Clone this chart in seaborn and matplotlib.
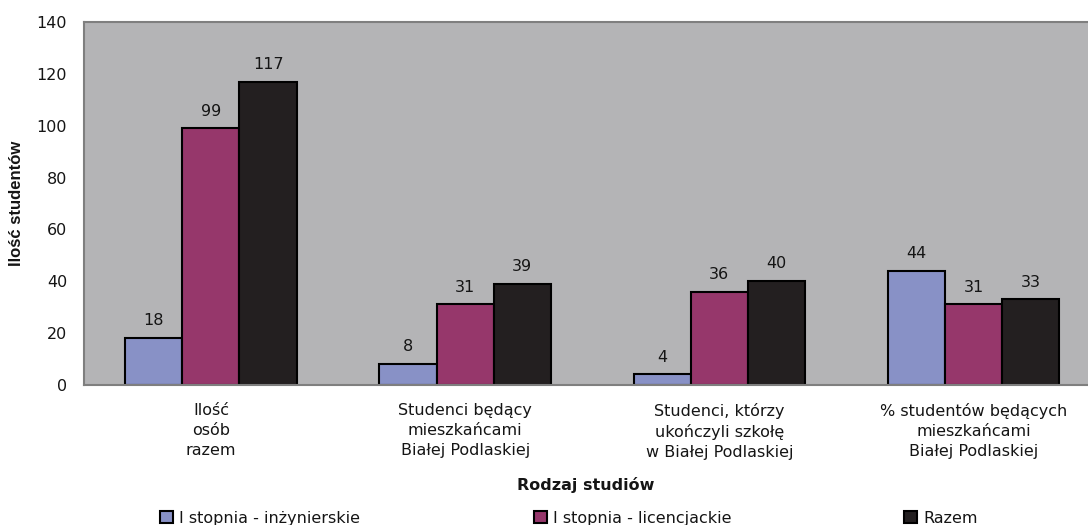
import pandas as pd
import seaborn as sns
from matplotlib import pyplot as plt

categories = ['Ilość\nosób\nrazem',
              'Studenci będący\nmieszkańcami\nBiałej Podlaskiej',
              'Studenci, którzy\nukończyli szkołę\nw Białej Podlaskiej',
              '% studentów będących\nmieszkańcami\nBiałej Podlaskiej']
series = ['I stopnia - inżynierskie', 'I stopnia - licencjackie', 'Razem']
inz = [18, 8, 4, 44]
lic = [99, 31, 36, 31]
razem = [117, 39, 40, 33]
colors = ['#8891C6', '#96376B', '#231F20']

rows = []
for name, vals in zip(series, [inz, lic, razem]):
    for cat, v in zip(categories, vals):
        rows.append({'cat': cat, 'series': name, 'value': v})
df = pd.DataFrame(rows)

sns.set_style("white")
plt.rcParams['font.family'] = ['DejaVu Sans']
fs = 11.5
txt = '#151515'

fig = plt.figure(figsize=(10.88, 5.25), dpi=100)
ax = fig.add_axes([0.077, 0.267, 0.923, 0.691])
ax.set_facecolor('#B4B4B6')

sns.barplot(data=df, x='cat', y='value', hue='series', order=categories, hue_order=series,
            palette=colors, width=0.675, gap=0, edgecolor='black', linewidth=1.5,
            saturation=1, ax=ax, legend=True)

for cont in ax.containers:
    ax.bar_label(cont, padding=7, fontsize=fs, color=txt)

ax.set_xlim(-0.5, 3.45)
ax.set_ylim(0, 140)
ax.set_yticks(range(0, 141, 20))
ax.tick_params(axis='y', length=0, pad=12, labelsize=fs, labelcolor=txt)
ax.tick_params(axis='x', length=0, pad=13, labelsize=fs, labelcolor=txt)
for lab in ax.get_xticklabels():
    lab.set_linespacing(1.42)
for sp in ['left', 'top', 'bottom']:
    ax.spines[sp].set_color('#7F7F7F')
    ax.spines[sp].set_linewidth(1.5)
ax.spines['right'].set_visible(False)

ax.set_xlabel('Rodzaj studiów', fontsize=fs, fontweight='bold', labelpad=12, color=txt)
ax.set_ylabel('Ilość studentów', fontsize=12, fontweight='bold', color=txt,
              family='Liberation Sans')
ax.yaxis.set_label_coords(-0.06, 0.5)

handles, labels = ax.get_legend_handles_labels()
ax.get_legend().remove()
xs = [0.147, 0.491, 0.831]
for h, l, x in zip(handles, labels, xs):
    leg = fig.legend([h], [l], loc='center left', bbox_to_anchor=(x, 0.013), frameon=False,
                     fontsize=fs, handlelength=0.8, handleheight=0.8, handletextpad=0.4,
                     borderaxespad=0, borderpad=0)
    for t in leg.get_texts():
        t.set_color(txt)

plt.savefig('out.png', dpi=100)
plt.close()
